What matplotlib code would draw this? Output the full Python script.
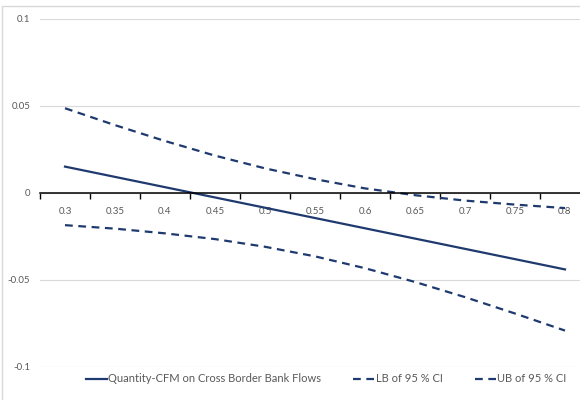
import numpy as np
import matplotlib.pyplot as plt
from matplotlib.patches import Rectangle
from matplotlib.ticker import FixedLocator

plt.rcParams['font.family'] = ['Lato', 'DejaVu Sans']

# niveles en el eje x (categorias)
niveles = ["0.3", "0.35", "0.4", "0.45", "0.5", "0.55", "0.6", "0.65", "0.7", "0.75", "0.8"]
# efecto estimado y bandas del intervalo de confianza
efecto = [0.015, 0.0091, 0.0032, -0.0027, -0.0086, -0.0145, -0.0204, -0.0263, -0.0322, -0.0381, -0.044]
lim_inf = [-0.0186, -0.0206, -0.0233, -0.0266, -0.031, -0.0365, -0.0433, -0.0512, -0.0599, -0.0693, -0.0791]
lim_sup = [0.0485, 0.0388, 0.0297, 0.0213, 0.0140, 0.0078, 0.0025, -0.0014, -0.0045, -0.0068, -0.0088]

color = "#1f3a6e"
gris = "#595959"

fig = plt.figure(figsize=(5.8, 4), dpi=100)
ax = fig.add_axes([40/580, 33/400, 550/580, 348.5/400])

x = np.arange(len(niveles))
ax.plot(x, efecto, color=color, lw=1.6, label="Quantity-CFM on Cross Border Bank Flows")
ax.plot(x, lim_inf, color=color, lw=1.6, dashes=(3.5, 2.5), label="LB of 95 % CI")
ax.plot(x, lim_sup, color=color, lw=1.6, dashes=(3.5, 2.5), label="UB of 95 % CI")

ax.set_xlim(-0.5, len(niveles) - 0.5)
ax.set_ylim(-0.1, 0.1)
ax.set_yticks([-0.1, -0.05, 0, 0.05, 0.1])
ax.set_yticklabels(["-0.1", "-0.05", "0", "0.05", "0.1"])
ax.grid(axis="y", color="#d9d9d9", lw=0.8)
ax.set_axisbelow(True)

# eje x cruzando en cero, marcas entre categorias
for s in ["top", "right", "left"]:
    ax.spines[s].set_visible(False)
ax.spines["bottom"].set_position(("data", 0))
ax.spines["bottom"].set_color("black")
ax.spines["bottom"].set_linewidth(1.1)
ax.set_xticks(x)
ax.set_xticklabels(niveles)
ax.xaxis.set_minor_locator(FixedLocator(np.arange(-0.5, len(niveles), 1.0)))
ax.tick_params(axis="x", which="major", length=0, pad=10, labelsize=7, labelcolor=gris)
ax.tick_params(axis="x", which="minor", length=4, width=1, color="black", direction="out")
ax.tick_params(axis="y", length=0, pad=7, labelsize=7, labelcolor=gris)

fig.legend(loc="center", bbox_to_anchor=(326/580, 1 - 379/400), ncol=3, frameon=False,
           fontsize=8, labelcolor=gris, handlelength=1.9, handletextpad=0.1, columnspacing=2.9)

# borde del area del grafico
fig.patches.append(Rectangle((1.5/580, -0.1), 1.2, 1 - 5.5/400 + 0.1, fill=False,
                             edgecolor="#d9d9d9", lw=1, transform=fig.transFigure))

fig.savefig("out.png", dpi=100)
